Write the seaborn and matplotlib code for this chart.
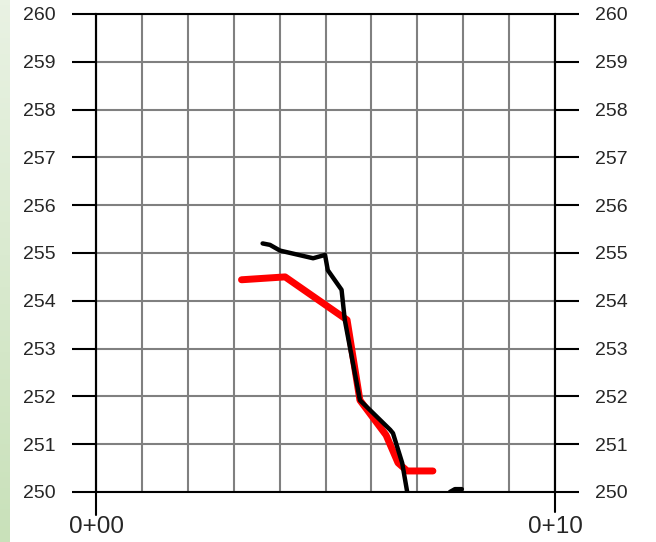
import numpy as np
import pandas as pd
import matplotlib
matplotlib.use("Agg")
import matplotlib.pyplot as plt
import seaborn as sns

# station (0+00 .. 0+10) vs elevation
black_x = [3.63, 3.79, 4.01, 4.73, 4.99, 5.05, 5.35, 5.42, 5.75, 6.41, 6.47, 6.67, 6.78]
black_y = [255.20, 255.17, 255.05, 254.89, 254.96, 254.64, 254.23, 253.60, 251.92, 251.30, 251.23, 250.61, 250.00]
red_x = [3.17, 4.12, 5.47, 5.75, 6.32, 6.58, 6.78, 7.34]
red_y = [254.44, 254.50, 253.60, 251.92, 251.19, 250.61, 250.44, 250.44]
stub_x = [7.71, 7.82, 7.97]
stub_y = [250.00, 250.06, 250.06]

y_ticks = list(range(250, 261))
x_ticks = list(range(0, 11))
x_labels = ["0+00", "", "", "", "", "", "", "", "", "", "0+10"]

sns.set_style("white")
plt.rcParams['font.family'] = ['Liberation Sans', 'DejaVu Sans']

fig = plt.figure(figsize=(6.56, 5.42), dpi=100)

# pale green strip at the left edge
strip = fig.add_axes([0, 0, 10 / 656, 1])
grad = np.linspace(0, 1, 100).reshape(-1, 1)
cmap = matplotlib.colors.LinearSegmentedColormap.from_list("g", ["#e9f2e3", "#c9e1ba"])
strip.imshow(grad, aspect="auto", cmap=cmap)
strip.axis("off")

ax = fig.add_axes([96 / 656, 50 / 542, 459 / 656, 478 / 542])

ax.grid(True, color="#808080", linewidth=1.5)
ax.set_axisbelow(True)

df_red = pd.DataFrame({"x": red_x, "y": red_y})
df_black = pd.DataFrame({"x": black_x, "y": black_y})
df_stub = pd.DataFrame({"x": stub_x, "y": stub_y})
sns.lineplot(data=df_red, x="x", y="y", sort=False, color="#ff0000", linewidth=5, ax=ax)
sns.lineplot(data=df_black, x="x", y="y", sort=False, color="black", linewidth=3.2, ax=ax)
sns.lineplot(data=df_stub, x="x", y="y", sort=False, color="black", linewidth=3.2, ax=ax)

ax.set_xlim(0, 10)
ax.set_ylim(250, 260)
ax.set_xticks(x_ticks)
ax.set_xticklabels(x_labels, fontsize=17.5)
ax.set_yticks(y_ticks)
ax.set_yticklabels([str(v) for v in y_ticks], fontsize=14)
ax.set_xlabel("")
ax.set_ylabel("")

for s in ax.spines.values():
    s.set_color("black")
    s.set_linewidth(1.5)

ax.tick_params(axis="y", which="both", direction="out", length=17, width=1.5,
               color="black", left=True, right=True, labelleft=True, labelright=True, pad=12)
ax.tick_params(axis="x", direction="out", length=7, width=1.5, color="black", pad=10)

# side axes run a bit below the 250 line
ax.axvline(0, ymin=-0.048, ymax=1, color="black", linewidth=1.5, clip_on=False)
ax.axvline(10, ymin=-0.042, ymax=1, color="black", linewidth=1.5, clip_on=False)

fig.savefig("out.png", dpi=100)
